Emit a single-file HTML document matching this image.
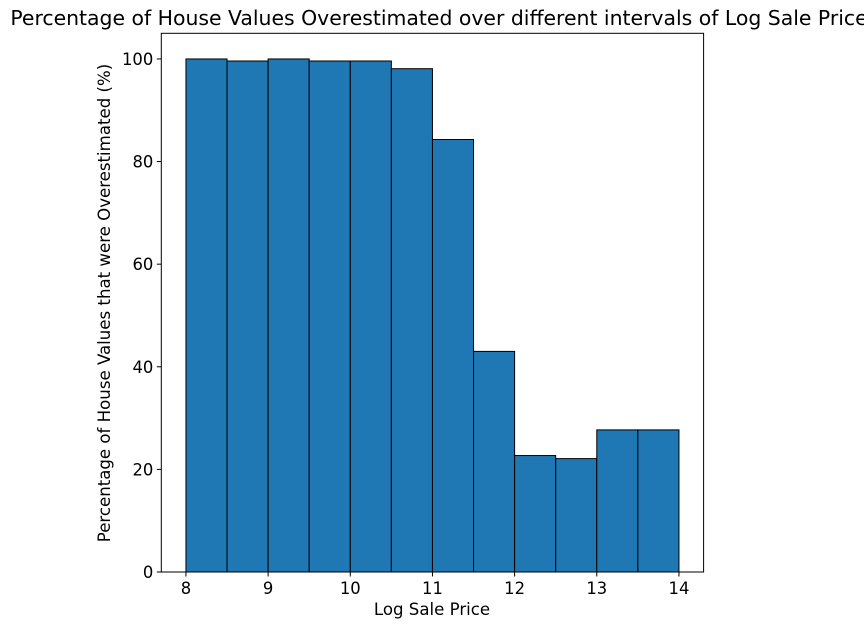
<!DOCTYPE html>
<html><head><meta charset="utf-8"><style>
body{margin:0;background:#fff;}
svg{display:block;font-family:"DejaVu Sans","Liberation Sans",sans-serif;}
</style></head><body>
<svg id="chart" width="864" height="627"></svg>
<script>
const binStarts=[8,8.5,9,9.5,10,10.5,11,11.5,12,12.5,13,13.5];
const binValues=[100,99.6,100,99.6,99.6,98.1,84.3,43,22.7,22.1,27.7,27.7];
const binWidth=0.5;
const xTicks=[8,9,10,11,12,13,14];
const yTicks=[0,20,40,60,80,100];
const L=161.3,R=703.6,T=33.3,B=572;
const xmin=7.7,xmax=14.3,ymin=0,ymax=105;
const sx=v=>L+(v-xmin)/(xmax-xmin)*(R-L);
const sy=v=>B-(v-ymin)/(ymax-ymin)*(B-T);
const svg=document.getElementById('chart');
const NS='http://www.w3.org/2000/svg';
function mk(tag,attrs,parent){const e=document.createElementNS(NS,tag);for(const k in attrs)e.setAttribute(k,attrs[k]);(parent||svg).appendChild(e);return e;}
binStarts.forEach((s,i)=>{
  const r=mk('rect',{x:sx(s),y:sy(binValues[i]),width:sx(s+binWidth)-sx(s),height:sy(0)-sy(binValues[i]),fill:'#1f77b4',stroke:'#000','stroke-width':1});
  
  
});
const frame=mk('rect',{x:L,y:T,width:R-L,height:B-T,fill:'none',stroke:'#000','stroke-width':1});


xTicks.forEach(t=>{
  mk('line',{x1:sx(t),x2:sx(t),y1:B,y2:B+4.5,stroke:'#000'});
  const tx=mk('text',{x:sx(t),y:B+22,'text-anchor':'middle','font-size':16.4});
  tx.textContent=t;
  
  
});
yTicks.forEach(t=>{
  mk('line',{x1:L-4.5,x2:L,y1:sy(t),y2:sy(t),stroke:'#000'});
  const tx=mk('text',{x:L-8,y:sy(t)+6,'text-anchor':'end','font-size':16.4});
  tx.textContent=t;
  
  
});
</script>
<div style="position:absolute;left:0;top:0;width:864px;height:627px;pointer-events:none;">
<svg width="864" height="627" style="font-family:'DejaVu Sans','Liberation Sans',sans-serif;">
<text x="439" y="25" text-anchor="middle" font-size="20.4">Percentage of House Values Overestimated over different intervals of Log Sale Price</text>
<text x="432" y="615" text-anchor="middle" font-size="16.6">Log Sale Price</text>
<text transform="translate(110,303) rotate(-90)" text-anchor="middle" font-size="16.6">Percentage of House Values that were Overestimated (%)</text>
</svg></div>
</body></html>
